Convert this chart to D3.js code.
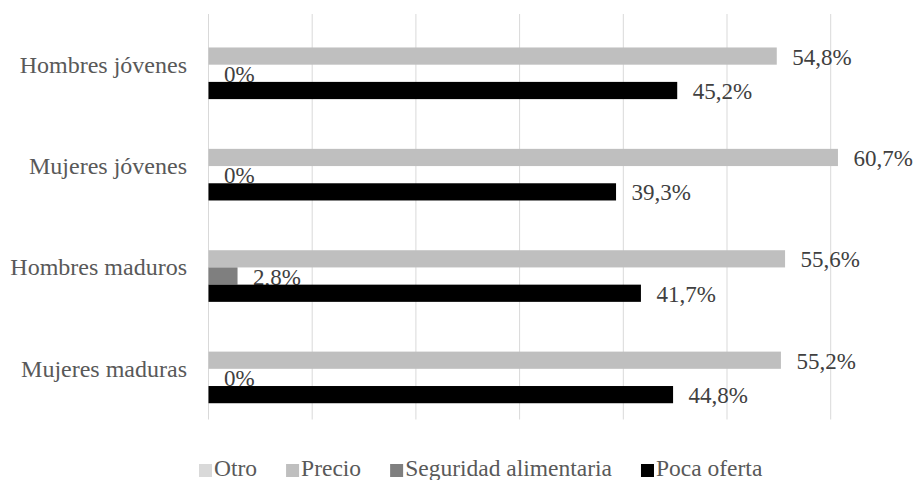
<!DOCTYPE html>
<html>
<head>
    <meta charset="utf-8">
    <title>Motivos por grupo</title>
    <style>
        body { margin: 0; background: #fff; }
        svg text { font-family: "Liberation Serif", "Times New Roman", Times, "DejaVu Serif", serif; }
        .grid line { stroke: #d9d9d9; stroke-width: 1px; }
        .cat { fill: #595959; font-size: 24px; }
        .val { fill: #404040; font-size: 23px; }
        .legend text { fill: #595959; font-size: 23.5px; }
    </style>
    <script src="https://d3js.org/d3.v7.min.js"></script>
</head>
<body>
    <div id="chart"></div>
    <script>
        // data
        const categories = ["Hombres jóvenes", "Mujeres jóvenes", "Hombres maduros", "Mujeres maduras"];
        const seriesNames = ["Otro", "Precio", "Seguridad alimentaria", "Poca oferta"];
        const seriesColors = ["#d9d9d9", "#bfbfbf", "#7f7f7f", "#000000"];
        const otro = [null, null, null, null];
        const precio = [54.8, 60.7, 55.6, 55.2];
        const seguridad = [0, 0, 2.8, 0];
        const pocaOferta = [45.2, 39.3, 41.7, 44.8];
        const xTicks = [0, 10, 20, 30, 40, 50, 60];

        const seriesValues = [otro, precio, seguridad, pocaOferta];

        const width = 922;
        const height = 480;
        const margin = {top: 14, right: 91.3, bottom: 60.5, left: 208.5};

        const svg = d3.select("#chart").append("svg")
            .attr("width", width)
            .attr("height", height);

        const x = d3.scaleLinear()
            .domain([0, 60])
            .range([margin.left, width - margin.right]);

        const y0 = d3.scaleBand()
            .domain(categories)
            .range([margin.top, height - margin.bottom])
            .paddingInner(0.321)
            .paddingOuter(0.1605);

        const y1 = d3.scaleBand()
            .domain(seriesNames)
            .range([0, y0.bandwidth()]);

        // vertical gridlines
        svg.append("g").attr("class", "grid")
            .selectAll("line")
            .data(xTicks)
            .enter().append("line")
            .attr("x1", d => x(d)).attr("x2", d => x(d))
            .attr("y1", margin.top).attr("y2", height - margin.bottom);

        // category labels
        svg.append("g")
            .selectAll("text")
            .data(categories)
            .enter().append("text")
            .attr("class", "cat")
            .attr("x", 187)
            .attr("y", d => y0(d) + y0.bandwidth() / 2 + 8)
            .attr("text-anchor", "end")
            .text(d => d);

        const fmt = v => v === 0 ? "0%" : v.toFixed(1).replace(".", ",") + "%";

        // bars + labels, one series at a time (later bars cover earlier labels)
        seriesNames.forEach((name, si) => {
            const rows = categories
                .map((c, i) => ({cat: c, v: seriesValues[si][i]}))
                .filter(d => d.v !== null);
            const g = svg.append("g");
            g.selectAll("rect")
                .data(rows)
                .enter().append("rect")
                .attr("x", x(0))
                .attr("y", d => y0(d.cat) + y1(name))
                .attr("width", d => x(d.v) - x(0))
                .attr("height", y1.bandwidth())
                .attr("fill", seriesColors[si]);
            g.selectAll("text")
                .data(rows)
                .enter().append("text")
                .attr("class", "val")
                .attr("x", d => x(d.v) + 15.5)
                .attr("y", d => y0(d.cat) + y1(name) + y1.bandwidth() / 2 + 8.5)
                .text(d => fmt(d.v));
        });

        // legend
        const legend = svg.append("g").attr("class", "legend");
        let lx = 199;
        seriesNames.forEach((name, i) => {
            legend.append("rect")
                .attr("x", lx).attr("y", 464)
                .attr("width", 13).attr("height", 13)
                .attr("fill", seriesColors[i]);
            const t = legend.append("text")
                .attr("x", lx + 15).attr("y", 476)
                .text(name);
            lx += 15 + t.node().getComputedTextLength() + 29;
        });
    </script>
</body>
</html>
